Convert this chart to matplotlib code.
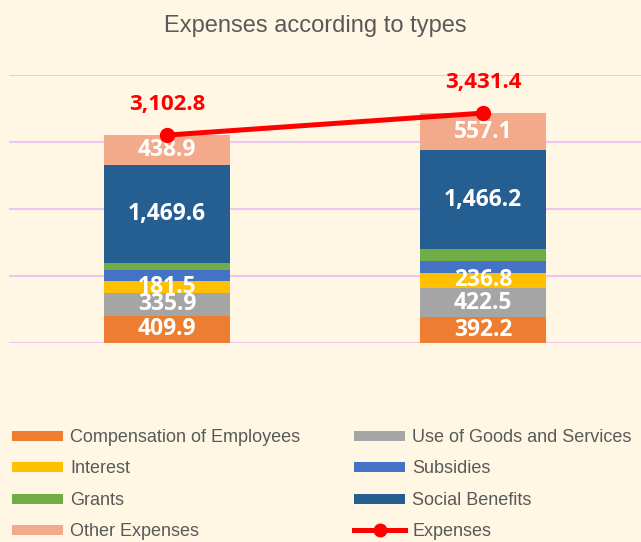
import matplotlib
matplotlib.use("Agg")
import matplotlib.pyplot as plt
from matplotlib.lines import Line2D
import numpy as np

# data
periods = ["Period 1", "Period 2"]
compensation = [409.9, 392.2]
goods_services = [335.9, 422.5]
interest = [181.5, 236.8]
subsidies = [155.0, 168.0]
grants = [112.0, 188.6]
social_benefits = [1469.6, 1466.2]
other_expenses = [438.9, 557.1]
total_expenses = [3102.8, 3431.4]

series = [
    ("Compensation of Employees", compensation, "#ED7D31", True),
    ("Use of Goods and Services", goods_services, "#A5A5A5", True),
    ("Interest", interest, "#FFC000", True),
    ("Subsidies", subsidies, "#4472C4", False),
    ("Grants", grants, "#70AD47", False),
    ("Social Benefits", social_benefits, "#255E91", True),
    ("Other Expenses", other_expenses, "#F2AA8A", True),
]

bg = "#FFF7E4"
text_grey = "#595959"

fig = plt.figure(figsize=(6.41, 5.42), dpi=100, facecolor=bg)
ax = fig.add_axes([9 / 641, 1 - 343 / 542, 1 - 9 / 641, (343 - 75) / 542])
ax.set_facecolor(bg)

x = np.arange(len(periods))
bottom = np.zeros(len(periods))
for name, vals, color, labelled in series:
    vals = np.array(vals)
    ax.bar(x, vals, width=0.4, bottom=bottom, color=color, zorder=2)
    if labelled:
        for xi, b, v in zip(x, bottom, vals):
            ax.text(xi, b + v / 2, f"{v:,.1f}", ha="center", va="center",
                    color="white", fontsize=16.5, fontweight="bold",
                    family="Open Sans", zorder=4)
    bottom += vals

ax.plot(x, total_expenses, color="#FF0000", lw=3.6, marker="o", ms=10, zorder=5)
for xi, v in zip(x, total_expenses):
    ax.annotate(f"{v:,.1f}", (xi, v), xytext=(0, 22), textcoords="offset points",
                ha="center", va="center", color="#FF0000", fontsize=16,
                fontweight="bold", family="Open Sans")

ax.set_xlim(-0.5, 1.5)
ax.set_ylim(0, 4000)
ax.set_yticks([0, 1000, 2000, 3000, 4000])
ax.grid(axis="y", color="#EFC6EF", lw=1.5, zorder=0)
ax.tick_params(left=False, bottom=False, labelleft=False, labelbottom=False)
for s in ax.spines.values():
    s.set_visible(False)

fig.text(315 / 641, 1 - 26 / 542, "Expenses according to types", ha="center", va="center",
         fontsize=17, color=text_grey, family="Liberation Sans")

# legend, filled column by column to match row order of the original
handles = {name: Line2D([], [], color=c, lw=7.2, solid_capstyle="butt")
           for name, _, c, _ in series}
handles["Expenses"] = Line2D([], [], color="#FF0000", lw=3.6, marker="o", ms=9)
order = ["Compensation of Employees", "Interest", "Grants", "Other Expenses",
         "Use of Goods and Services", "Subsidies", "Social Benefits", "Expenses"]
leg = fig.legend([handles[n] for n in order], order, ncol=2, loc="upper left",
                 bbox_to_anchor=(12 / 641, 1 - 429 / 542), frameon=False,
                 prop={"family": "Liberation Sans", "size": 13},
                 handlelength=2.82, handletextpad=0.39, columnspacing=3.0,
                 labelspacing=0.8, borderpad=0, borderaxespad=0)
for t in leg.get_texts():
    t.set_color(text_grey)

fig.savefig("out.png", dpi=100, facecolor=bg)
